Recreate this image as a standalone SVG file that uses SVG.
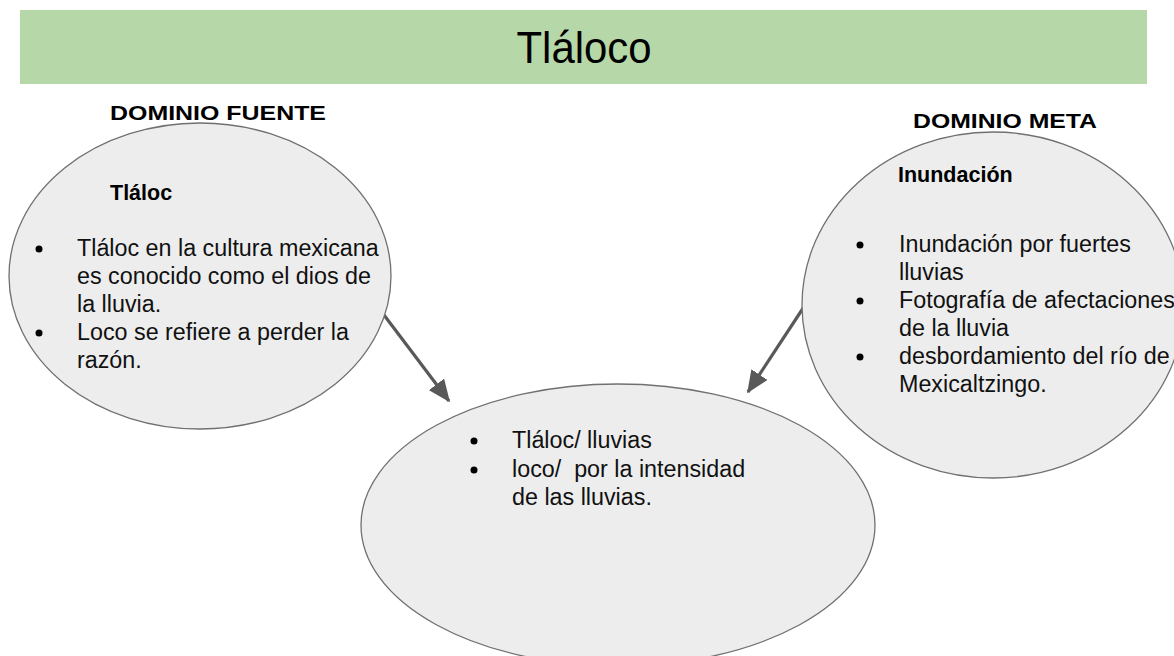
<svg xmlns="http://www.w3.org/2000/svg" width="1174" height="656" viewBox="0 0 1174 656">
<style>
.ell{fill:#ededed;stroke:#707070;stroke-width:1.3}
.t{font-family:"Liberation Sans",Arial,sans-serif;fill:#000}
.b{font-size:23.3px;fill:#111}
.h{font-size:21.5px;font-weight:bold}
.d{font-size:21px;font-weight:bold}
.con{stroke:#595959;stroke-width:3.2;fill:none;marker-end:url(#ah)}
</style>
<defs>
<marker id="ah" markerWidth="7" markerHeight="6" refX="6.5" refY="3" orient="auto" markerUnits="strokeWidth">
<path d="M0,0 L7,3 L0,6 Z" fill="#595959"/>
</marker>
</defs>
<rect width="1174" height="656" fill="#fff"/>
<g id="title">
<rect x="20" y="10" width="1127" height="74" fill="#b6d7a8"/>
<text class="t" x="584" y="63" font-size="44" text-anchor="middle" textLength="135" lengthAdjust="spacingAndGlyphs">Tláloco</text>
</g>
<g id="label-fuente"><text class="t d" x="110" y="120" textLength="216" lengthAdjust="spacingAndGlyphs">DOMINIO FUENTE</text></g>
<g id="label-meta"><text class="t d" x="913" y="128" textLength="184" lengthAdjust="spacingAndGlyphs">DOMINIO META</text></g>
<g id="connectors">
<line class="con" x1="384" y1="315" x2="449" y2="401"/>
<line class="con" x1="817" y1="287" x2="748" y2="392"/>
</g>
<g id="source">
<ellipse class="ell" cx="200" cy="276" rx="191" ry="153"/>
<text class="t h" x="110" y="200">Tláloc</text>
<circle cx="39" cy="249" r="3.5"/>
<circle cx="39" cy="333" r="3.5"/>
<text class="t b" x="77" y="256">Tláloc en la cultura mexicana</text>
<text class="t b" x="77" y="284">es conocido como el dios de</text>
<text class="t b" x="77" y="312">la lluvia.</text>
<text class="t b" x="77" y="340">Loco se refiere a perder la</text>
<text class="t b" x="77" y="368">razón.</text>
</g>
<g id="target">
<ellipse class="ell" cx="993" cy="305" rx="191" ry="173"/>
<text class="t h" x="898" y="182">Inundación</text>
<circle cx="860" cy="245" r="3.5"/>
<circle cx="860" cy="301" r="3.5"/>
<circle cx="860" cy="357" r="3.5"/>
<text class="t b" x="899" y="252">Inundación por fuertes</text>
<text class="t b" x="899" y="280">lluvias</text>
<text class="t b" x="899" y="308">Fotografía de afectaciones</text>
<text class="t b" x="899" y="336">de la lluvia</text>
<text class="t b" x="899" y="364">desbordamiento del río de</text>
<text class="t b" x="899" y="392">Mexicaltzingo.</text>
</g>
<g id="blend">
<ellipse class="ell" cx="618" cy="525" rx="257" ry="141"/>
<circle cx="474" cy="441" r="3.5"/>
<circle cx="474" cy="470" r="3.5"/>
<text class="t b" x="512" y="448">Tláloc/ lluvias</text>
<text class="t b" x="512" y="477" xml:space="preserve">loco/  por la intensidad</text>
<text class="t b" x="512" y="505">de las lluvias.</text>
</g>
</svg>
